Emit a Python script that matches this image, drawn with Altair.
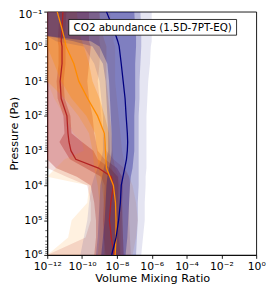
import altair as alt
import pandas as pd

# pressure levels (log10 Pa)
LOGP = [-1, -0.5, -0.3, -0.15, 0, 0.5, 1, 1.5, 2, 2.5, 2.75, 3, 3.25, 3.5, 3.75, 4, 4.5, 5, 5.5, 6]

# log10 volume mixing ratio
BLUE_MED = [-8.6, -8.2, -8.05, -7.95, -7.87, -7.75, -7.64, -7.53, -7.47, -7.4, -7.38, -7.4, -7.45, -7.55, -7.65, -7.75, -7.8, -7.9, -8.05, -8.3]
BLUE_1_LO = [-12, -12, -12, -9.5, -9.0, -8.55, -8.45, -8.4, -8.35, -8.3, -8.3, -8.3, -8.35, -8.45, -8.55, -8.6, -8.65, -8.7, -8.8, -8.9]
BLUE_1_HI = [-7.0, -6.95, -6.9, -6.9, -6.9, -6.95, -6.95, -6.95, -7.0, -7.0, -7.0, -7.0, -7.05, -7.1, -7.2, -7.25, -7.3, -7.35, -7.4, -7.5]
BLUE_2_LO = [-12, -12, -12, -10.5, -9.4, -8.8, -8.65, -8.6, -8.55, -8.5, -8.5, -8.5, -8.6, -8.75, -8.85, -8.95, -9.0, -9.05, -9.1, -9.2]
BLUE_2_HI = [-6.65, -6.6, -6.6, -6.6, -6.6, -6.65, -6.7, -6.7, -6.75, -6.75, -6.75, -6.75, -6.75, -6.75, -6.75, -6.75, -6.8, -6.8, -6.85, -6.9]
BLUE_3_LO = [-12, -12, -12, -11.5, -9.9, -9.3, -9.0, -8.9, -8.8, -8.8, -8.8, -8.8, -8.9, -9.1, -9.3, -9.45, -9.6, -9.7, -9.9, -10.1]
BLUE_3_HI = [-6.0, -6.0, -6.0, -6.0, -6.05, -6.1, -6.2, -6.25, -6.3, -6.3, -6.3, -6.3, -6.3, -6.3, -6.35, -6.35, -6.4, -6.4, -6.5, -6.6]

OR_MED = [-11.43, -11.15, -11.05, -10.98, -10.92, -10.47, -10.19, -9.68, -9.11, -8.72, -8.68, -8.66, -8.63, -8.6, -8.4, -8.2, -8.08, -8.05, -8.05, -8.1]
OR_1_LO = [-12, -12, -12, -12, -12, -11.6, -11.2, -10.6, -9.75, -9.25, -9.2, -9.15, -9.1, -9.05, -8.95, -8.85, -8.75, -8.7, -8.7, -8.75]
OR_1_HI = [-10.3, -10.2, -10.1, -10.0, -9.9, -9.6, -9.4, -9.0, -8.7, -8.45, -8.42, -8.4, -8.35, -8.3, -8.1, -7.95, -7.85, -7.8, -7.8, -7.8]
OR_2_LO = [-12, -12, -12, -12, -12, -12, -12, -11.0, -10.2, -9.6, -9.5, -9.4, -9.35, -9.3, -9.2, -9.1, -9.0, -9.0, -9.0, -9.1]
OR_2_HI = [-9.0, -8.9, -8.8, -8.7, -8.6, -8.6, -8.6, -8.5, -8.4, -8.3, -8.28, -8.25, -8.2, -8.1, -7.9, -7.8, -7.7, -7.65, -7.65, -7.65]
OR_3_LO = [-12, -12, -12, -12, -12, -12, -12, -11.6, -11.0, -10.5, -10.0, -9.9, -11.0, -11.5, -12, -9.6, -9.7, -10.6, -10.8, -12]
OR_3_HI = [-8.4, -8.3, -8.2, -8.2, -8.1, -8.1, -8.1, -8.0, -7.9, -7.8, -7.75, -7.7, -7.6, -7.5, -7.3, -7.1, -6.9, -6.8, -6.9, -7.1]

RED_MED = [-11.1, -11.15, -11.18, -11.2, -11.15, -11.15, -11.26, -11.2, -10.87, -10.81, -10.75, -10.64, -10.36, -9.06, -8.32, -8.2, -8.35, -8.43, -8.32, -8.15]
RED_1_LO = [-11.3, -11.35, -11.38, -11.4, -11.35, -11.35, -11.46, -11.4, -11.07, -11.01, -11.3, -11.0, -10.7, -9.8, -8.9, -8.7, -8.75, -8.8, -8.75, -8.65]
RED_1_HI = [-10.9, -10.95, -10.98, -11.0, -10.95, -10.95, -11.06, -11.0, -10.67, -10.61, -10.0, -9.35, -9.1, -8.4, -7.95, -7.9, -7.95, -7.95, -7.9, -7.8]
RED_2_LO = [-12, -12, -12, -12, -12, -12, -12, -12, -12, -12, -12, -12, -12, -11.5, -10.3, -9.5, -9.3, -9.2, -9.2, -9.3]
RED_2_HI = [-9.6, -9.6, -9.6, -9.6, -9.5, -9.6, -9.7, -9.6, -9.4, -9.3, -9.2, -9.1, -8.7, -8.0, -7.7, -7.65, -7.7, -7.7, -7.65, -7.6]
RED_3_LO = [-12, -12, -12, -12, -12, -12, -12, -12, -12, -12, -12, -12, -12, -12, -10.9, -9.7, -9.5, -9.5, -9.8, -12]
RED_3_HI = [-9.0, -9.0, -9.0, -9.0, -8.95, -9.0, -9.1, -9.0, -8.9, -8.8, -8.7, -8.6, -8.2, -7.6, -7.3, -7.25, -7.3, -7.3, -7.25, -7.2]

X_TICK_EXP = [-12, -10, -8, -6, -4, -2, 0]
X_TICK_LABELS = ["10⁻¹²", "10⁻¹⁰", "10⁻⁸", "10⁻⁶", "10⁻⁴", "10⁻²", "10⁰"]
Y_TICK_EXP = [-1, 0, 1, 2, 3, 4, 5, 6]
Y_TICK_LABELS = ["10⁻¹", "10⁰", "10¹", "10²", "10³", "10⁴", "10⁵", "10⁶"]

# (color, median, [(lo, hi, alpha) from widest to narrowest])
SERIES = [
    ("#b22222", RED_MED, [(RED_3_LO, RED_3_HI, 0.15), (RED_2_LO, RED_2_HI, 0.3), (RED_1_LO, RED_1_HI, 0.35)]),
    ("#ff8c00", OR_MED, [(OR_3_LO, OR_3_HI, 0.12), (OR_2_LO, OR_2_HI, 0.22), (OR_1_LO, OR_1_HI, 0.3)]),
    ("#000080", BLUE_MED, [(BLUE_3_LO, BLUE_3_HI, 0.1), (BLUE_2_LO, BLUE_2_HI, 0.2), (BLUE_1_LO, BLUE_1_HI, 0.3)]),
]

xscale = alt.Scale(type="log", domain=[1e-12, 1], nice=False)
yscale = alt.Scale(type="log", domain=[1e-1, 1e6], reverse=True, nice=False)


def expr_labels(exps, labels):
    e = "round(log(datum.value)/LN10)"
    s = "''"
    for ex, lab in zip(exps, labels):
        s = f"({e}=={ex}) ? '{lab}' : {s}"
    return s


xaxis = alt.Axis(values=[10.0 ** e for e in X_TICK_EXP], labelExpr=expr_labels(X_TICK_EXP, X_TICK_LABELS),
                 title="Volume Mixing Ratio", grid=False, tickSize=3.5, labelPadding=2, labelFlush=False,
                 titleY=27, titleBaseline="alphabetic", titleX=107)
yaxis = alt.Axis(values=[10.0 ** e for e in Y_TICK_EXP], labelExpr=expr_labels(Y_TICK_EXP, Y_TICK_LABELS),
                 title="Pressure (Pa)", grid=False, tickSize=3.5, labelPadding=2, labelFlush=False,
                 labelOffset={"condition": {"test": "datum.value < 0.5", "value": 3}, "value": 0},
                 titleX=-28, titleY=124)

layers = []
for color, med, bands in SERIES:
    for lo, hi, a in bands:
        df = pd.DataFrame({"p": [10.0 ** v for v in LOGP], "lo": [10.0 ** v for v in lo], "hi": [10.0 ** v for v in hi]})
        layers.append(
            alt.Chart(df).mark_area(orient="horizontal", color=color, fillOpacity=a, clip=True).encode(
                y=alt.Y("p:Q", scale=yscale, axis=yaxis),
                x=alt.X("lo:Q", scale=xscale, axis=xaxis, stack=None),
                x2=alt.X2("hi:Q"),
            )
        )
for color, med, bands in SERIES:
    df = pd.DataFrame({"p": [10.0 ** v for v in LOGP], "v": [10.0 ** v for v in med]})
    layers.append(
        alt.Chart(df).mark_line(color=color, strokeWidth=1.3, clip=True).encode(
            y=alt.Y("p:Q", scale=yscale, axis=yaxis),
            x=alt.X("v:Q", scale=xscale, axis=xaxis),
            order="p:Q",
        )
    )

# minor ticks on the pressure axis
minor = [m * 10.0 ** k for k in range(-1, 6) for m in range(2, 10)]
layers.append(
    alt.Chart(pd.DataFrame({"p": minor})).mark_rule(color="black", strokeWidth=0.6).encode(
        y=alt.Y("p:Q", scale=yscale, axis=yaxis), x=alt.value(-2), x2=alt.value(0)
    )
)

# title box
ann = pd.DataFrame({"t": ["CO2 abundance (1.5D-7PT-EQ)"]})
layers.append(
    alt.Chart(ann).mark_rect(fill="white", stroke="black", strokeWidth=0.8).encode(
        x=alt.value(22), x2=alt.value(193), y=alt.value(8), y2=alt.value(24)
    )
)
layers.append(
    alt.Chart(ann).mark_text(font="DejaVu Sans", fontSize=10.5, color="black", baseline="middle").encode(
        text="t:N", x=alt.value(107.5), y=alt.value(16.5)
    )
)

chart = alt.layer(*layers).properties(
    width=213, height=248,
    padding={"left": 40, "top": 1, "right": 10, "bottom": 30},
    autosize=alt.AutoSizeParams(type="none"),
).configure_view(stroke="black", strokeWidth=0.9).configure_axis(
    domainColor="black", tickColor="black", labelColor="black", titleColor="black",
    labelFont="DejaVu Sans", titleFont="DejaVu Sans", labelFontSize=11, titleFontSize=11.5,
    titleFontWeight="normal", domainWidth=0.9, tickWidth=0.9,
)

chart.save("out.html", embed_options={"renderer": "svg", "actions": False})
